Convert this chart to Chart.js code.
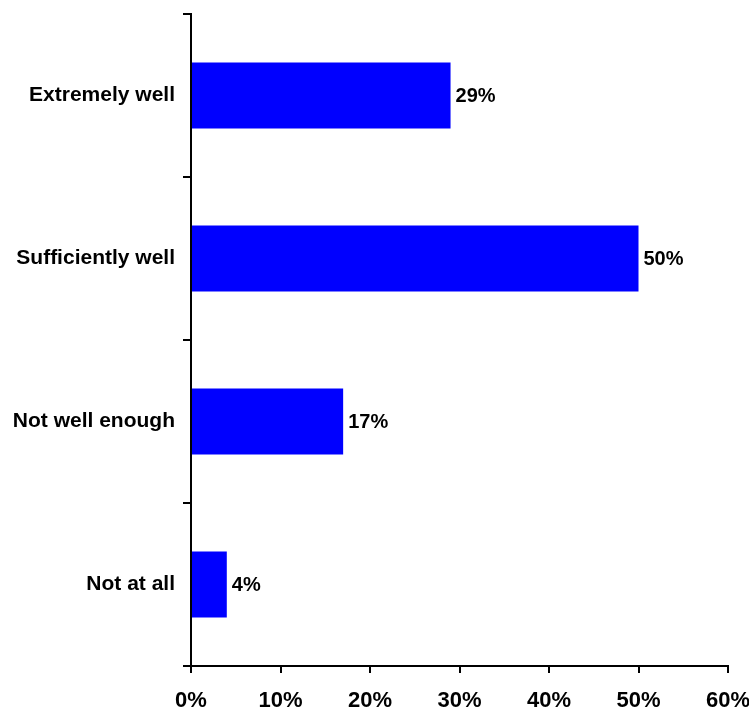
<!DOCTYPE html>
<html>
<head>
<meta charset="utf-8">
<script src="https://cdn.jsdelivr.net/npm/chart.js@4/dist/chart.umd.min.js"></script>
<style>
  html, body { margin: 0; padding: 0; background: #fff; }
  #wrap { width: 749px; height: 713px; position: relative; }
</style>
</head>
<body>
<div id="wrap"><canvas id="answersChart"></canvas></div>
<script>
// Câu trả lời và tỉ lệ phần trăm
const answers = ['Extremely well', 'Sufficiently well', 'Not well enough', 'Not at all'];
const percents = [29, 50, 17, 4];
const xTicks = [0, 10, 20, 30, 40, 50, 60];

const FONT = "'Liberation Sans', Arial, sans-serif";

// Ghi giá trị ở cuối mỗi thanh
const valueLabels = {
    id: 'valueLabels',
    afterDatasetsDraw(chart) {
        const ctx = chart.ctx;
        const meta = chart.getDatasetMeta(0);
        ctx.save();
        ctx.font = 'bold 20px ' + FONT;
        ctx.fillStyle = '#000';
        ctx.textAlign = 'left';
        ctx.textBaseline = 'middle';
        meta.data.forEach((bar, i) => {
            ctx.fillText(percents[i] + '%', bar.x + 5, bar.y + 1);
        });
        ctx.restore();
    }
};

const ctx = document.getElementById('answersChart').getContext('2d');
new Chart(ctx, {
    type: 'bar',
    data: {
        labels: answers,
        datasets: [{
            data: percents,
            backgroundColor: '#0000ff',
            borderWidth: 0,
            categoryPercentage: 0.405,
            barPercentage: 1.0
        }]
    },
    options: {
        indexAxis: 'y',
        responsive: true,
        maintainAspectRatio: false,
        animation: false,
        layout: { padding: { top: 14, right: 21, left: 0, bottom: 0 } },
        plugins: {
            legend: { display: false },
            tooltip: { enabled: false }
        },
        scales: {
            x: {
                min: 0,
                max: 60,
                afterBuildTicks(axis) {
                    axis.ticks = xTicks.map(v => ({ value: v }));
                },
                afterFit(axis) {
                    axis.height = 47;
                    // nhãn 60% được phép tràn sang lề phải
                    axis.paddingLeft = 0;
                    axis.paddingRight = 0;
                },
                border: { display: true, color: '#000', width: 2 },
                grid: {
                    drawOnChartArea: false,
                    drawTicks: true,
                    tickLength: 7,
                    color: '#000',
                    lineWidth: 2
                },
                ticks: {
                    color: '#000',
                    padding: 15,
                    maxRotation: 0,
                    font: { family: FONT, size: 22, weight: 'bold' },
                    callback: v => v + '%'
                }
            },
            y: {
                afterFit(axis) {
                    axis.width = 191;
                    axis.paddingTop = 0;
                    axis.paddingBottom = 0;
                },
                border: { display: true, color: '#000', width: 2 },
                grid: {
                    offset: true,
                    drawOnChartArea: false,
                    drawTicks: true,
                    tickLength: 8,
                    color: '#000',
                    lineWidth: 2
                },
                ticks: {
                    color: '#000',
                    padding: 8,
                    font: { family: FONT, size: 21, weight: 'bold' }
                }
            }
        }
    },
    plugins: [valueLabels]
});
</script>
</body>
</html>
